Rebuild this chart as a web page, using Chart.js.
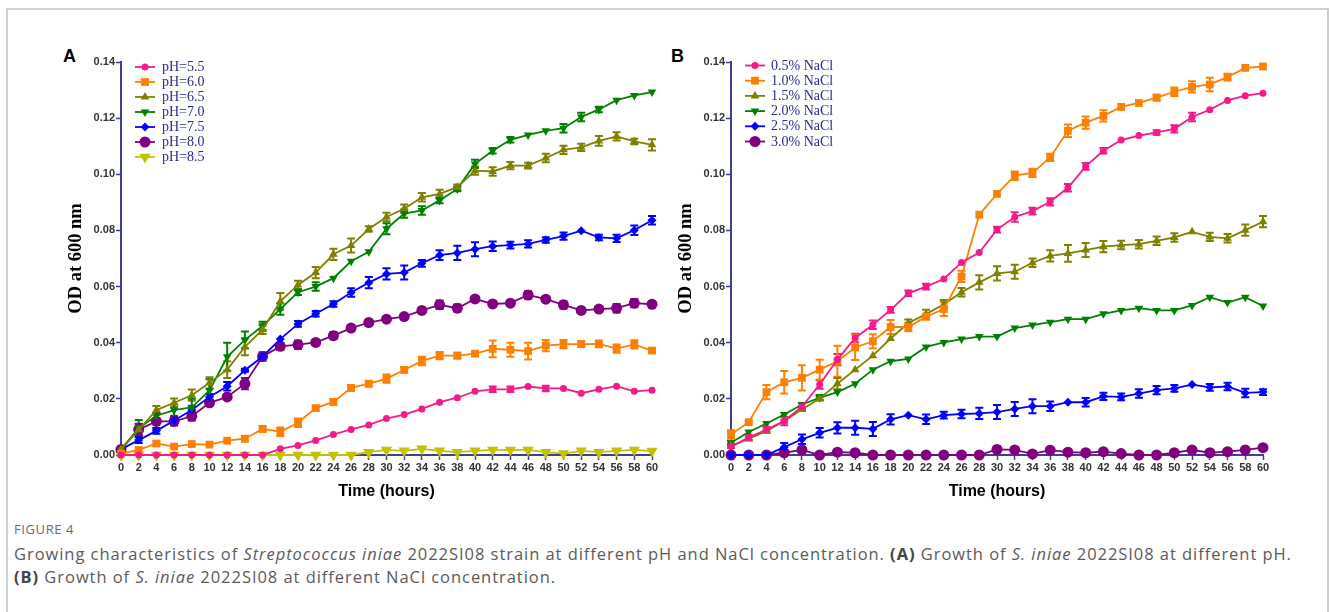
<!DOCTYPE html>
<html>
<head>
<meta charset="utf-8">
<script src="https://cdn.jsdelivr.net/npm/chart.js@4.4.1/dist/chart.umd.min.js"></script>
<style>
  html, body { margin: 0; padding: 0; background: #fff; }
  body { width: 1330px; height: 612px; position: relative; overflow: hidden; }
  #frame { position: absolute; left: 6px; top: 8px; width: 1323px; height: 640px; border: 2px solid #cfcfcf; box-sizing: border-box; }
  .panel { position: absolute; top: 40px; height: 470px; }
  #boxA { left: 60px; width: 610px; }
  #boxB { left: 670px; width: 620px; }
  .letter { position: absolute; font: bold 18px "Liberation Sans", Arial, sans-serif; color: #000; line-height: 1; }
  #caption { position: absolute; left: 14px; top: 521px; color: #5a5a5a; font-family: "Open Sans", sans-serif; white-space: nowrap; }
  #caption .fig { font-size: 13px; color: #6a6a6a; letter-spacing: 0.6px; line-height: 17px; }
  #caption .txt { font-size: 16.5px; line-height: 23px; margin-top: 4px; }
  #caption b { color: #444; }
</style>
</head>
<body>
<div id="frame"></div>
<div class="letter" style="left:63px; top:47px;">A</div>
<div class="letter" style="left:671px; top:47px;">B</div>
<div class="panel" id="boxA"><canvas id="chartA"></canvas></div>
<div class="panel" id="boxB"><canvas id="chartB"></canvas></div>
<div id="caption">
  <div class="fig">FIGURE 4</div>
  <div class="txt" id="capText"><span id="line1">Growing characteristics of <i>Streptococcus iniae</i> 2022SI08 strain at different pH and NaCl concentration. <b>(A)</b> Growth of <i>S. iniae</i> 2022SI08 at different pH.</span><br><b>(B)</b> Growth of <i>S. iniae</i> 2022SI08 at different NaCl concentration.</div>
</div>
<script>
// sampling times (h)
const hours = [0, 2, 4, 6, 8, 10, 12, 14, 16, 18, 20, 22, 24, 26, 28, 30, 32, 34, 36, 38, 40, 42, 44, 46, 48, 50, 52, 54, 56, 58, 60];
const yTicks = [0, 0.02, 0.04, 0.06, 0.08, 0.10, 0.12, 0.14];

// panel A: pH
const phLabels = ["pH=5.5", "pH=6.0", "pH=6.5", "pH=7.0", "pH=7.5", "pH=8.0", "pH=8.5"];
const ph55 = [0, 0, 0, 0, 0, 0, 0, 0, 0, 0.0022, 0.0034, 0.0052, 0.0073, 0.0091, 0.0107, 0.013, 0.0144, 0.0164, 0.0188, 0.0204, 0.0227, 0.0234, 0.0234, 0.0244, 0.0237, 0.0237, 0.022, 0.0234, 0.0245, 0.0227, 0.0231];
const ph60 = [0.0005, 0.0018, 0.0041, 0.003, 0.0039, 0.0037, 0.0051, 0.0058, 0.0093, 0.0083, 0.0115, 0.0167, 0.0189, 0.0239, 0.0254, 0.0272, 0.0303, 0.0335, 0.0354, 0.0354, 0.0361, 0.0378, 0.0375, 0.037, 0.039, 0.0395, 0.0395, 0.0396, 0.0379, 0.0394, 0.0372];
const ph65 = [0.002, 0.009, 0.016, 0.0186, 0.0213, 0.0257, 0.0304, 0.0385, 0.0446, 0.0547, 0.0606, 0.065, 0.0715, 0.0746, 0.0805, 0.0848, 0.0877, 0.0918, 0.093, 0.0954, 0.1013, 0.101, 0.1031, 0.1031, 0.1058, 0.1087, 0.1096, 0.1119, 0.1135, 0.1117, 0.1105];
const ph70 = [0.002, 0.0095, 0.014, 0.016, 0.017, 0.023, 0.035, 0.041, 0.046, 0.052, 0.058, 0.060, 0.063, 0.069, 0.0724, 0.0806, 0.086, 0.0871, 0.0907, 0.0948, 0.1037, 0.1084, 0.1123, 0.114, 0.1155, 0.1164, 0.1204, 0.1231, 0.1264, 0.1281, 0.1293];
const ph75 = [0.002, 0.0053, 0.0086, 0.0123, 0.016, 0.0207, 0.0245, 0.0302, 0.0351, 0.0413, 0.0467, 0.0503, 0.0538, 0.0579, 0.0614, 0.0645, 0.065, 0.0683, 0.0712, 0.072, 0.0733, 0.0744, 0.0748, 0.0752, 0.0766, 0.078, 0.0799, 0.0775, 0.0772, 0.0801, 0.0836];
const ph80 = [0.002, 0.0091, 0.012, 0.012, 0.0138, 0.0186, 0.0207, 0.0254, 0.0351, 0.0387, 0.0393, 0.0401, 0.0425, 0.0452, 0.0472, 0.0484, 0.0493, 0.0515, 0.0535, 0.0523, 0.0556, 0.0538, 0.0541, 0.057, 0.0555, 0.0535, 0.0515, 0.052, 0.0523, 0.0541, 0.0537];
const ph85 = [0, 0, 0, 0, 0, 0, 0, 0, 0, 0, 0, 0, 0, 0, 0.001, 0.0018, 0.0015, 0.0022, 0.0015, 0.001, 0.0015, 0.0018, 0.0018, 0.0018, 0.001, 0.0005, 0.0015, 0.001, 0.0015, 0.0018, 0.0014];

// SD (half length of error bar)
const ph55Err = [0, 0, 0, 0, 0, 0, 0, 0, 0, 0, 0, 0, 0, 0, 0, 0, 0, 0, 0, 0, 0, 0.001, 0.001, 0, 0.001, 0, 0, 0, 0, 0, 0];
const ph60Err = [0, 0, 0.0008, 0, 0, 0, 0, 0.001, 0.001, 0.0015, 0.0015, 0.0008, 0.001, 0.001, 0.001, 0.0015, 0.001, 0.0015, 0.0013, 0.001, 0.0005, 0.003, 0.0025, 0.003, 0.002, 0.0015, 0.001, 0.0012, 0.0015, 0.0015, 0.0005];
const ph65Err = [0, 0.002, 0.0015, 0.0015, 0.002, 0.002, 0.003, 0.003, 0.0015, 0.003, 0.0015, 0.002, 0.002, 0.0025, 0.001, 0.0015, 0.0015, 0.0015, 0.0015, 0.001, 0.0015, 0.0015, 0.0013, 0.001, 0.0015, 0.0015, 0.0013, 0.0017, 0.0015, 0.001, 0.002];
const ph70Err = [0, 0.003, 0.001, 0.002, 0.003, 0.004, 0.005, 0.003, 0.0015, 0.002, 0.001, 0.0015, 0, 0, 0, 0.002, 0.0015, 0.0015, 0.001, 0.0008, 0.0015, 0.001, 0.001, 0, 0, 0.0015, 0.0015, 0.001, 0, 0, 0];
const ph75Err = [0, 0.001, 0.001, 0.001, 0.001, 0.001, 0.0015, 0.0005, 0, 0, 0.001, 0.001, 0.001, 0.0015, 0.002, 0.002, 0.0025, 0.0012, 0.0017, 0.0025, 0.0025, 0.0017, 0.0012, 0.0013, 0.001, 0.0013, 0, 0.001, 0.0013, 0.0017, 0.0015];
const ph80Err = [0, 0.002, 0.003, 0.0015, 0.0015, 0.001, 0.0005, 0.002, 0.0015, 0.0013, 0.0015, 0, 0.0013, 0.0008, 0, 0, 0, 0.001, 0.0015, 0.0013, 0.001, 0, 0, 0.0013, 0, 0.0013, 0, 0.0005, 0.0015, 0.0015, 0.001];

// panel B: NaCl
const naclLabels = ["0.5% NaCl", "1.0% NaCl", "1.5% NaCl", "2.0% NaCl", "2.5% NaCl", "3.0% NaCl"];
const nacl05 = [0.003, 0.0062, 0.0091, 0.0121, 0.0172, 0.0251, 0.034, 0.0417, 0.0464, 0.0517, 0.0576, 0.06, 0.0627, 0.0686, 0.0721, 0.0803, 0.0848, 0.0869, 0.0902, 0.0952, 0.1028, 0.1084, 0.1122, 0.1138, 0.1149, 0.1162, 0.1204, 0.123, 0.1263, 0.128, 0.1289];
const nacl10 = [0.0073, 0.0117, 0.0224, 0.0259, 0.0275, 0.0304, 0.0334, 0.0383, 0.0405, 0.0456, 0.0456, 0.0493, 0.052, 0.0636, 0.0856, 0.093, 0.0995, 0.1005, 0.106, 0.1155, 0.1184, 0.1208, 0.124, 0.1254, 0.1273, 0.1294, 0.1311, 0.132, 0.1346, 0.1379, 0.1384];
const nacl15 = [0.0032, 0.0058, 0.0085, 0.0121, 0.0162, 0.0201, 0.0254, 0.0304, 0.0354, 0.0415, 0.047, 0.0502, 0.0537, 0.058, 0.0615, 0.0647, 0.0653, 0.0685, 0.0709, 0.0718, 0.073, 0.0742, 0.0748, 0.0751, 0.0763, 0.0775, 0.0795, 0.0777, 0.0772, 0.0801, 0.0831];
const nacl20 = [0.0044, 0.0082, 0.0112, 0.0144, 0.018, 0.0204, 0.0224, 0.0254, 0.0304, 0.0334, 0.0342, 0.0385, 0.0401, 0.0413, 0.0422, 0.0422, 0.0452, 0.0463, 0.0473, 0.0484, 0.0484, 0.0503, 0.0515, 0.0523, 0.0515, 0.0515, 0.0533, 0.0562, 0.0543, 0.0562, 0.0531];
const nacl25 = [0, 0, 0, 0.0028, 0.0056, 0.0079, 0.0097, 0.0097, 0.0093, 0.0127, 0.0142, 0.0127, 0.0142, 0.0146, 0.0148, 0.0153, 0.0164, 0.0174, 0.0174, 0.0188, 0.0188, 0.0209, 0.0207, 0.0219, 0.0231, 0.0237, 0.0251, 0.0241, 0.0244, 0.0221, 0.0224];
const nacl30 = [0, 0, 0, 0.0008, 0.0018, 0, 0.001, 0.0008, 0, 0, 0, 0, 0, 0, 0, 0.002, 0.0018, 0.0004, 0.0017, 0.001, 0.0008, 0.0012, 0.0005, 0, 0, 0.0008, 0.0018, 0.0008, 0.0012, 0.0018, 0.0026];

const nacl05Err = [0.0005, 0.001, 0.001, 0.0015, 0.0012, 0.0015, 0.002, 0.0015, 0.0015, 0.001, 0.001, 0.001, 0, 0, 0, 0.001, 0.0017, 0.0012, 0.0013, 0.0013, 0.0012, 0.001, 0, 0, 0.0008, 0.0013, 0.0015, 0, 0, 0, 0];
const nacl10Err = [0.0015, 0.0005, 0.0025, 0.004, 0.0045, 0.0035, 0.0055, 0.0045, 0.0025, 0.0025, 0.0015, 0.001, 0.0025, 0.002, 0, 0, 0.0015, 0.0015, 0.0013, 0.0022, 0.0022, 0.002, 0, 0, 0.001, 0.0015, 0.002, 0.0024, 0.0012, 0, 0];
const nacl15Err = [0.0005, 0.0005, 0.0005, 0.0005, 0.0005, 0.0005, 0.002, 0, 0, 0, 0.0013, 0.0015, 0.0015, 0.0015, 0.0025, 0.0025, 0.0025, 0.0015, 0.002, 0.003, 0.0025, 0.002, 0.0015, 0.0015, 0.0015, 0.0015, 0, 0.0015, 0.0015, 0.002, 0.002];
const nacl20Err = [0.0005, 0, 0, 0, 0, 0.001, 0, 0, 0, 0, 0, 0, 0, 0, 0, 0, 0, 0, 0, 0, 0, 0, 0, 0, 0, 0, 0, 0, 0, 0, 0];
const nacl25Err = [0, 0, 0, 0.0015, 0.0017, 0.0017, 0.002, 0.0025, 0.0025, 0.0018, 0, 0.0017, 0.0012, 0.0015, 0.002, 0.0025, 0.0025, 0.0025, 0.0017, 0, 0.0015, 0.0013, 0.0012, 0.0015, 0.0015, 0.0012, 0, 0.0012, 0.0013, 0.0015, 0.001];
const nacl30Err = [0, 0, 0, 0, 0.001, 0, 0, 0, 0, 0, 0, 0, 0, 0, 0, 0.001, 0.001, 0, 0, 0, 0, 0, 0, 0, 0, 0, 0, 0, 0, 0, 0];

const AXIS = '#3f3f8f';
const PINK = '#f5198a', ORANGE = '#ff8000', OLIVE = '#808000', GREEN = '#008000',
      BLUE = '#0000ff', PURPLE = '#800080', YELLOW = '#c2c200';

// marker styles: [pointStyle, radius, rotation]
const styles = [
  ['circle', 3.5, 0],
  ['rect', 5.5, 0],
  ['triangle', 5, 0],
  ['triangle', 5, 180],
  ['rectRot', 4.5, 0],
  ['circle', 5.5, 0],
  ['triangle', 6.5, 180]
];

function series(label, values, errors, color, idx) {
  const st = styles[idx];
  return {
    label: label,
    data: values,
    errors: errors,
    borderColor: color,
    backgroundColor: color,
    borderWidth: 1.8,
    pointStyle: st[0],
    pointRadius: st[1],
    pointRotation: st[2],
    pointBorderWidth: 0,
    pointBackgroundColor: color,
    tension: 0,
    clip: false
  };
}

// draw a marker the same way as chart.js does
function marker(ctx, style, r, rot, x, y, color) {
  ctx.save();
  ctx.fillStyle = color;
  ctx.translate(x, y);
  ctx.rotate(rot * Math.PI / 180);
  ctx.beginPath();
  if (style === 'circle') {
    ctx.arc(0, 0, r, 0, Math.PI * 2);
  } else if (style === 'rect') {
    const s = r * Math.SQRT1_2;
    ctx.rect(-s, -s, 2 * s, 2 * s);
  } else if (style === 'rectRot') {
    ctx.moveTo(0, -r); ctx.lineTo(r, 0); ctx.lineTo(0, r); ctx.lineTo(-r, 0);
  } else if (style === 'triangle') {
    const a = -Math.PI / 2;
    ctx.moveTo(Math.cos(a) * r, Math.sin(a) * r);
    ctx.lineTo(Math.cos(a + 2.0944) * r, Math.sin(a + 2.0944) * r);
    ctx.lineTo(Math.cos(a + 4.1888) * r, Math.sin(a + 4.1888) * r);
  }
  ctx.closePath();
  ctx.fill();
  ctx.restore();
}

const errorBars = {
  id: 'errorBars',
  beforeDatasetsDraw(chart) {
    const ctx = chart.ctx;
    const y = chart.scales.y;
    chart.data.datasets.forEach((ds, di) => {
      if (!ds.errors) return;
      const meta = chart.getDatasetMeta(di);
      ctx.save();
      ctx.strokeStyle = ds.borderColor;
      ctx.lineWidth = 2;
      ds.errors.forEach((e, i) => {
        if (!e) return;
        const px = meta.data[i].x;
        const top = y.getPixelForValue(ds.data[i] + e);
        const bot = y.getPixelForValue(Math.max(0, ds.data[i] - e));
        ctx.beginPath();
        ctx.moveTo(px, top); ctx.lineTo(px, bot);
        ctx.moveTo(px - 4, top); ctx.lineTo(px + 4, top);
        ctx.moveTo(px - 4, bot); ctx.lineTo(px + 4, bot);
        ctx.stroke();
      });
      ctx.restore();
    });
  }
};

const sideLegend = {
  id: 'sideLegend',
  afterDraw(chart, args, opts) {
    const ctx = chart.ctx;
    ctx.save();
    chart.data.datasets.forEach((ds, i) => {
      const yy = opts.y + i * opts.gap;
      ctx.strokeStyle = ds.borderColor;
      ctx.lineWidth = 1.8;
      ctx.beginPath();
      ctx.moveTo(opts.x, yy); ctx.lineTo(opts.x + 20, yy);
      ctx.stroke();
      const st = styles[i];
      marker(ctx, st[0], st[1], st[2], opts.x + 10, yy, ds.borderColor);
      ctx.fillStyle = '#2c2c8a';
      ctx.font = '14px "Liberation Serif", "Times New Roman", serif';
      ctx.textBaseline = 'middle';
      ctx.textAlign = 'left';
      ctx.fillText(ds.label, opts.x + opts.textGap, yy + 0.5);
    });
    ctx.restore();
  }
};

function makeOptions(padRight, legendPos) {
  return {
    responsive: true,
    maintainAspectRatio: false,
    animation: false,
    layout: { padding: { top: 22, right: padRight, bottom: 0, left: 0 } },
    plugins: {
      legend: { display: false },
      tooltip: { enabled: false },
      sideLegend: legendPos
    },
    scales: {
      x: {
        type: 'category',
        offset: false,
        afterFit(scale) { scale.height = 55; },
        grid: { display: true, drawOnChartArea: false, drawTicks: true, tickLength: 5, tickColor: AXIS, tickWidth: 1.5, offset: false },
        border: { display: true, color: AXIS, width: 2 },
        ticks: {
          autoSkip: false, maxRotation: 0, padding: 1, color: '#333',
          font: { family: '"Liberation Sans", Arial, sans-serif', size: 11, weight: 'bold' }
        },
        title: {
          display: true, text: 'Time (hours)', color: '#000',
          font: { family: '"Liberation Sans", Arial, sans-serif', size: 16, weight: 'bold' },
          padding: { top: 0, bottom: 9 }
        }
      },
      y: {
        min: 0, max: 0.14,
        afterFit(scale) { scale.width = 61; },
        afterBuildTicks(scale) { scale.ticks = yTicks.map(v => ({ value: v })); },
        grid: { display: true, drawOnChartArea: false, drawTicks: true, tickLength: 5, tickColor: AXIS, tickWidth: 1.5 },
        border: { display: true, color: AXIS, width: 2 },
        ticks: {
          padding: 1, color: '#333',
          callback: v => v.toFixed(2),
          font: { family: '"Liberation Sans", Arial, sans-serif', size: 11, weight: 'bold' }
        },
        title: {
          display: true, text: 'OD at 600 nm', color: '#000',
          font: { family: '"Liberation Serif", "Times New Roman", serif', size: 18.5, weight: 'bold' },
          padding: { top: 5, bottom: 0 }
        }
      }
    }
  };
}

new Chart(document.getElementById('chartA'), {
  type: 'line',
  data: {
    labels: hours,
    datasets: [
      series(phLabels[0], ph55, ph55Err, PINK, 0),
      series(phLabels[1], ph60, ph60Err, ORANGE, 1),
      series(phLabels[2], ph65, ph65Err, OLIVE, 2),
      series(phLabels[3], ph70, ph70Err, GREEN, 3),
      series(phLabels[4], ph75, ph75Err, BLUE, 4),
      series(phLabels[5], ph80, ph80Err, PURPLE, 5),
      series(phLabels[6], ph85, null, YELLOW, 6)
    ]
  },
  options: makeOptions(18, { x: 75, y: 27, gap: 15, textGap: 27 }),
  plugins: [errorBars, sideLegend]
});

new Chart(document.getElementById('chartB'), {
  type: 'line',
  data: {
    labels: hours,
    datasets: [
      series(naclLabels[0], nacl05, nacl05Err, PINK, 0),
      series(naclLabels[1], nacl10, nacl10Err, ORANGE, 1),
      series(naclLabels[2], nacl15, nacl15Err, OLIVE, 2),
      series(naclLabels[3], nacl20, nacl20Err, GREEN, 3),
      series(naclLabels[4], nacl25, nacl25Err, BLUE, 4),
      series(naclLabels[5], nacl30, nacl30Err, PURPLE, 5)
    ]
  },
  options: makeOptions(27, { x: 75, y: 25.5, gap: 15.2, textGap: 26 }),
  plugins: [errorBars, sideLegend]
});

// stretch the caption so its first line spans the same width as in the figure
(function fitCaption() {
  const cap = document.getElementById('capText');
  const line1 = document.getElementById('line1');
  const w = line1.getBoundingClientRect().width;
  const n = line1.textContent.length;
  cap.style.letterSpacing = ((1278 - w) / n).toFixed(3) + 'px';
})();
</script>
</body>
</html>
